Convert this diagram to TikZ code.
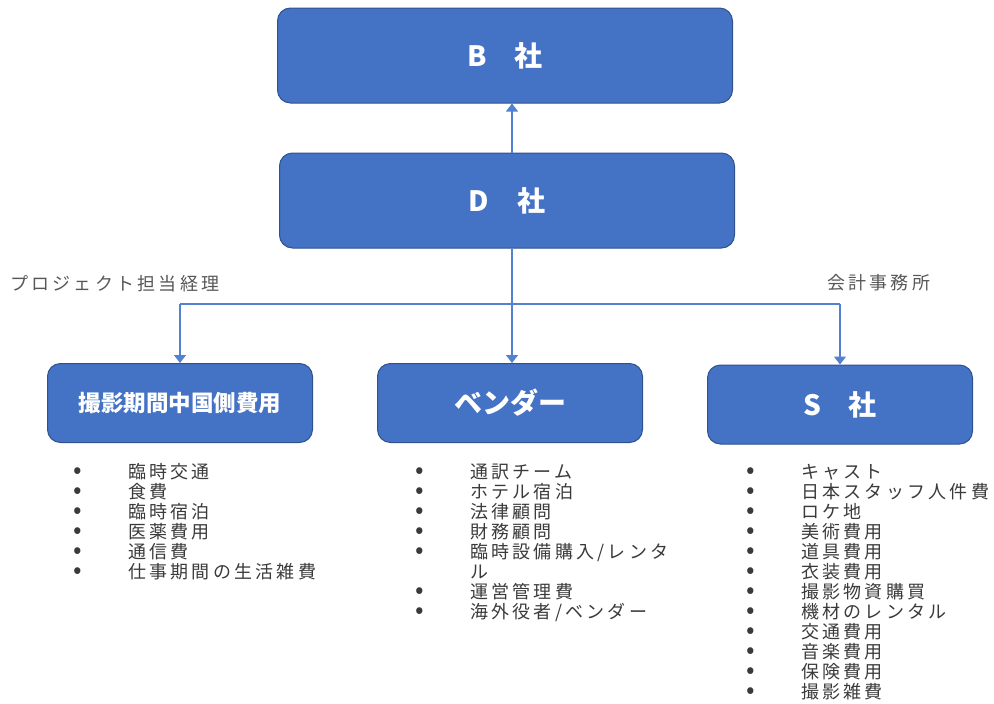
\documentclass[tikz,border=0pt]{standalone}
\usepackage{fontspec}
\setmainfont{Noto Sans CJK JP}
\newfontfamily\listfont{Noto Sans CJK JP}[LetterSpace=18]
\usetikzlibrary{arrows.meta}
\definecolor{boxblue}{HTML}{4472C4}
\definecolor{boxedge}{HTML}{2F528F}
\definecolor{linkblue}{HTML}{5282CF}
\definecolor{listgray}{HTML}{3A3A3A}
\tikzset{firm/.style={draw=boxedge, line width=1pt, fill=boxblue, rounded corners=13pt, text=white,
           font=\bfseries\fontsize{28}{32}\selectfont, minimum width=455pt, minimum height=95pt},
         cost/.style={firm, minimum width=265pt, minimum height=79pt},
         link/.style={linkblue, line width=1.3pt},
         flow/.style={link, -{Triangle[width=12pt,length=8pt]}},
         note/.style={listgray, inner sep=0pt, font=\listfont\fontsize{18}{20}\selectfont},
         items/.style={note, anchor=north west, align=left}}
\newcommand{\dotmark}{\makebox[55pt][l]{\makebox[10pt][c]{\smash{\scalebox{1.4}{•}}}}}

\begin{document}
\begin{tikzpicture}[x=1pt, y=-1pt]
   \useasboundingbox (0,0) rectangle (994,704);
   \node[firm] (b) at (505,55.5) {B\quad 社};
   \node[firm] (d) at (507,200.5) {D\quad 社};
   \node[cost, font=\bfseries\fontsize{22.5}{26}\selectfont] (shoot) at (180,403) {撮影期間中国側費用};
   \node[cost] (vendor) at (510,403) {ベンダー};
   \node[cost] (s) at (840,404.5) {S\quad 社};
   \draw[flow] ([xshift=5pt]d.north) -- ([xshift=7pt]b.south);
   \coordinate (split) at ([xshift=5pt]d.south |- 0,304);
   \draw[flow] ([xshift=5pt]d.south) -- ([xshift=2pt]vendor.north);
   \draw[link] (split -| shoot.north) -- (split -| s.north);
   \draw[flow] (split -| shoot.north) -- (shoot.north);
   \draw[flow] (split -| s.north) -- (s.north);
   \node[note, anchor=west, text=listgray!85] (pm) at (10,284) {プロジェクト担当経理};
   \node[note, anchor=west, text=listgray!85] (acct) at (827,283) {会計事務所};
   \node[items] (shootlist) at (73,463.5) {\rule{0pt}{15pt}\dotmark 臨時交通\\ \dotmark 食費\\
      \dotmark 臨時宿泊\\ \dotmark 医薬費用\\ \dotmark 通信費\\ \dotmark 仕事期間の生活雑費};
   \node[items] (vendorlist) at (415,463.5) {\rule{0pt}{15pt}\dotmark 通訳チーム\\ \dotmark ホテル宿泊\\
      \dotmark 法律顧問\\ \dotmark 財務顧問\\ \dotmark 臨時設備購入/レンタ\\ \hspace*{55pt}ル\\
      \dotmark 運営管理費\\ \dotmark 海外役者/ベンダー};
   \node[items] (slist) at (746,463.5) {\rule{0pt}{15pt}\dotmark キャスト\\ \dotmark 日本スタッフ人件費\\
      \dotmark ロケ地\\ \dotmark 美術費用\\ \dotmark 道具費用\\ \dotmark 衣装費用\\
      \dotmark 撮影物資購買\\ \dotmark 機材のレンタル\\ \dotmark 交通費用\\
      \dotmark 音楽費用\\ \dotmark 保険費用\\ \dotmark 撮影雑費};
\end{tikzpicture}
\end{document}
